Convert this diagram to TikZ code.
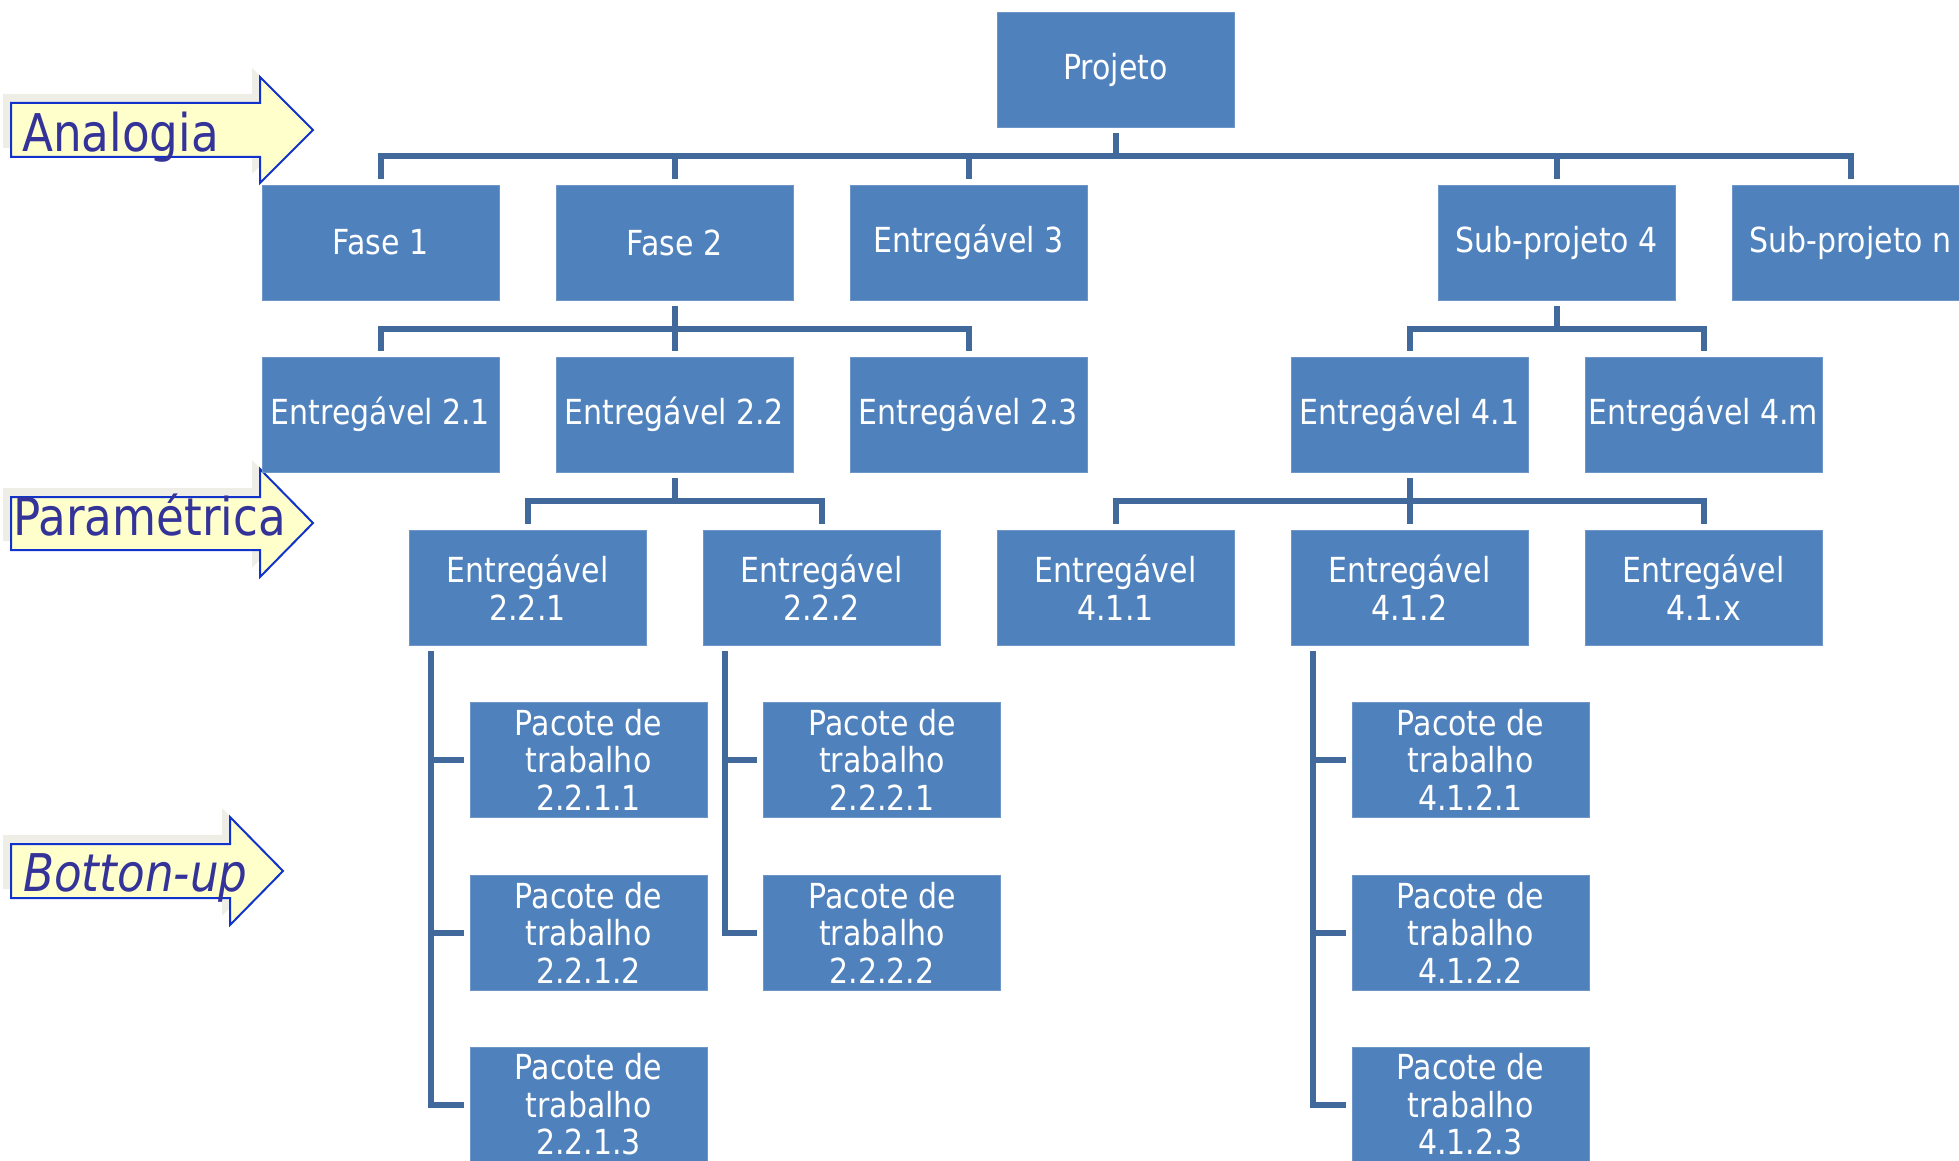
\documentclass[tikz,border=0pt]{standalone}
\usepackage{fontspec}
\setmainfont{DejaVu Sans}[FakeStretch=0.87]
\definecolor{boxblue}{HTML}{4F81BD}
\definecolor{boxedge}{HTML}{6F96C8}
\definecolor{connblue}{HTML}{41699C}
\definecolor{arrowfill}{HTML}{FFFFCC}
\definecolor{arrowline}{HTML}{1133CC}
\definecolor{arrowtext}{HTML}{333399}
\definecolor{shadowgray}{HTML}{EEEDE6}
\begin{document}
\begin{tikzpicture}[x=1pt,y=-1pt,
  wbs/.style={fill=boxblue, draw=boxedge, line width=0.8pt, minimum width=237pt, minimum height=115pt,
    inner sep=0pt, text=white, font=\fontsize{34.5}{37.5}\selectfont, align=center},
  conn/.style={draw=connblue, line width=6pt},
  bigarrow/.style={draw=arrowline, fill=arrowfill, line width=2pt, line join=miter},
  arrowshadow/.style={fill=shadowgray},
  arrowlabel/.style={anchor=base west, inner sep=0pt, text=arrowtext, font=\fontsize{52}{60}\selectfont}]
\useasboundingbox (0,0) rectangle (1959,1161);

% ---------- left arrows ----------
\fill[arrowshadow] (3,94) -- (252,94) -- (252,68) -- (305,121) -- (252,174) -- (252,148) -- (3,148) -- cycle;
\draw[bigarrow] (11,103) -- (260,103) -- (260,77) -- (313,130) -- (260,183) -- (260,157) -- (11,157) -- cycle;
\node[arrowlabel] (tAna) at (22,152) {Analogia};

\fill[arrowshadow] (3,488) -- (252,488) -- (252,460) -- (305,514) -- (252,568) -- (252,541) -- (3,541) -- cycle;
\draw[bigarrow] (11,497) -- (260,497) -- (260,469) -- (313,523) -- (260,577) -- (260,550) -- (11,550) -- cycle;
\node[arrowlabel] (tPar) at (13,535) {Paramétrica};

\fill[arrowshadow] (3,835) -- (222,835) -- (222,808) -- (275,862) -- (222,916) -- (222,889) -- (3,889) -- cycle;
\draw[bigarrow] (11,844) -- (230,844) -- (230,817) -- (283,871) -- (230,925) -- (230,898) -- (11,898) -- cycle;
\node[arrowlabel, font=\fontsize{52}{60}\selectfont\itshape] (tBot) at (23,891) {Botton-up};

% ---------- boxes ----------
\node[wbs] (proj) at (1115.5,69.5) {Projeto};

\node[wbs] (f1) at (380.5,242.5) {Fase 1};
\node[wbs] (f2) at (674.5,242.5) {Fase 2};
\node[wbs] (e3) at (968.5,242.5) {Entregável 3};
\node[wbs] (s4) at (1556.5,242.5) {Sub-projeto 4};
\node[wbs] (sn) at (1850.5,242.5) {Sub-projeto n};

\node[wbs] (e21) at (380.5,414.5) {Entregável 2.1};
\node[wbs] (e22) at (674.5,414.5) {Entregável 2.2};
\node[wbs] (e23) at (968.5,414.5) {Entregável 2.3};
\node[wbs] (e41) at (1409.5,414.5) {Entregável 4.1};
\node[wbs] (e4m) at (1703.5,414.5) {Entregável 4.m};

\node[wbs] (e221) at (527.5,587.5) {Entregável\\2.2.1};
\node[wbs] (e222) at (821.5,587.5) {Entregável\\2.2.2};
\node[wbs] (e411) at (1115.5,587.5) {Entregável\\4.1.1};
\node[wbs] (e412) at (1409.5,587.5) {Entregável\\4.1.2};
\node[wbs] (e41x) at (1703.5,587.5) {Entregável\\4.1.x};

\node[wbs] (p2211) at (588.5,759.5) {Pacote de\\trabalho\\2.2.1.1};
\node[wbs] (p2212) at (588.5,932.5) {Pacote de\\trabalho\\2.2.1.2};
\node[wbs] (p2213) at (588.5,1104.5) {Pacote de\\trabalho\\2.2.1.3};
\node[wbs] (p2221) at (882,759.5) {Pacote de\\trabalho\\2.2.2.1};
\node[wbs] (p2222) at (882,932.5) {Pacote de\\trabalho\\2.2.2.2};
\node[wbs] (p4121) at (1470.5,759.5) {Pacote de\\trabalho\\4.1.2.1};
\node[wbs] (p4122) at (1470.5,932.5) {Pacote de\\trabalho\\4.1.2.2};
\node[wbs] (p4123) at (1470.5,1104.5) {Pacote de\\trabalho\\4.1.2.3};

% ---------- bus levels ----------
\coordinate (b1) at (0,156);
\coordinate (b2) at (0,329);
\coordinate (b3) at (0,501);

% Projeto -> level 1
\draw[conn] ([yshift=-6pt]proj.south) -- (proj.south |- b1);
\draw[conn] ([yshift=6pt]f1.north) |- (b1 -| f1.north) -| ([yshift=6pt]sn.north);
\foreach \n in {f2,e3,s4} \draw[conn] (\n.north |- b1) -- ([yshift=6pt]\n.north);

% Fase 2 -> level 2
\draw[conn] ([yshift=-6pt]f2.south) -- (f2.south |- b2);
\draw[conn] ([yshift=6pt]e21.north) |- (b2 -| e21.north) -| ([yshift=6pt]e23.north);
\draw[conn] (e22.north |- b2) -- ([yshift=6pt]e22.north);

% Sub-projeto 4 -> level 2
\draw[conn] ([yshift=-6pt]s4.south) -- (s4.south |- b2);
\draw[conn] ([yshift=6pt]e41.north) |- (b2 -| e41.north) -| ([yshift=6pt]e4m.north);

% Entregavel 2.2 -> level 3
\draw[conn] ([yshift=-6pt]e22.south) -- (e22.south |- b3);
\draw[conn] ([yshift=6pt]e221.north) |- (b3 -| e221.north) -| ([yshift=6pt]e222.north);

% Entregavel 4.1 -> level 3
\draw[conn] ([yshift=-6pt]e41.south) -- (e41.south |- b3);
\draw[conn] ([yshift=6pt]e411.north) |- (b3 -| e411.north) -| ([yshift=6pt]e41x.north);
\draw[conn] (e412.north |- b3) -- ([yshift=6pt]e412.north);

% work packages
\coordinate (v221) at ([xshift=22pt,yshift=-6pt]e221.south west);
\coordinate (v222) at ([xshift=22pt,yshift=-6pt]e222.south west);
\coordinate (v412) at ([xshift=22pt,yshift=-6pt]e412.south west);

\draw[conn] (v221) |- ([xshift=-6pt]p2213.west);
\draw[conn] (p2211.west -| v221) -- ([xshift=-6pt]p2211.west);
\draw[conn] (p2212.west -| v221) -- ([xshift=-6pt]p2212.west);

\draw[conn] (v222) |- ([xshift=-6pt]p2222.west);
\draw[conn] (p2221.west -| v222) -- ([xshift=-6pt]p2221.west);

\draw[conn] (v412) |- ([xshift=-6pt]p4123.west);
\draw[conn] (p4121.west -| v412) -- ([xshift=-6pt]p4121.west);
\draw[conn] (p4122.west -| v412) -- ([xshift=-6pt]p4122.west);
\end{tikzpicture}
\end{document}
